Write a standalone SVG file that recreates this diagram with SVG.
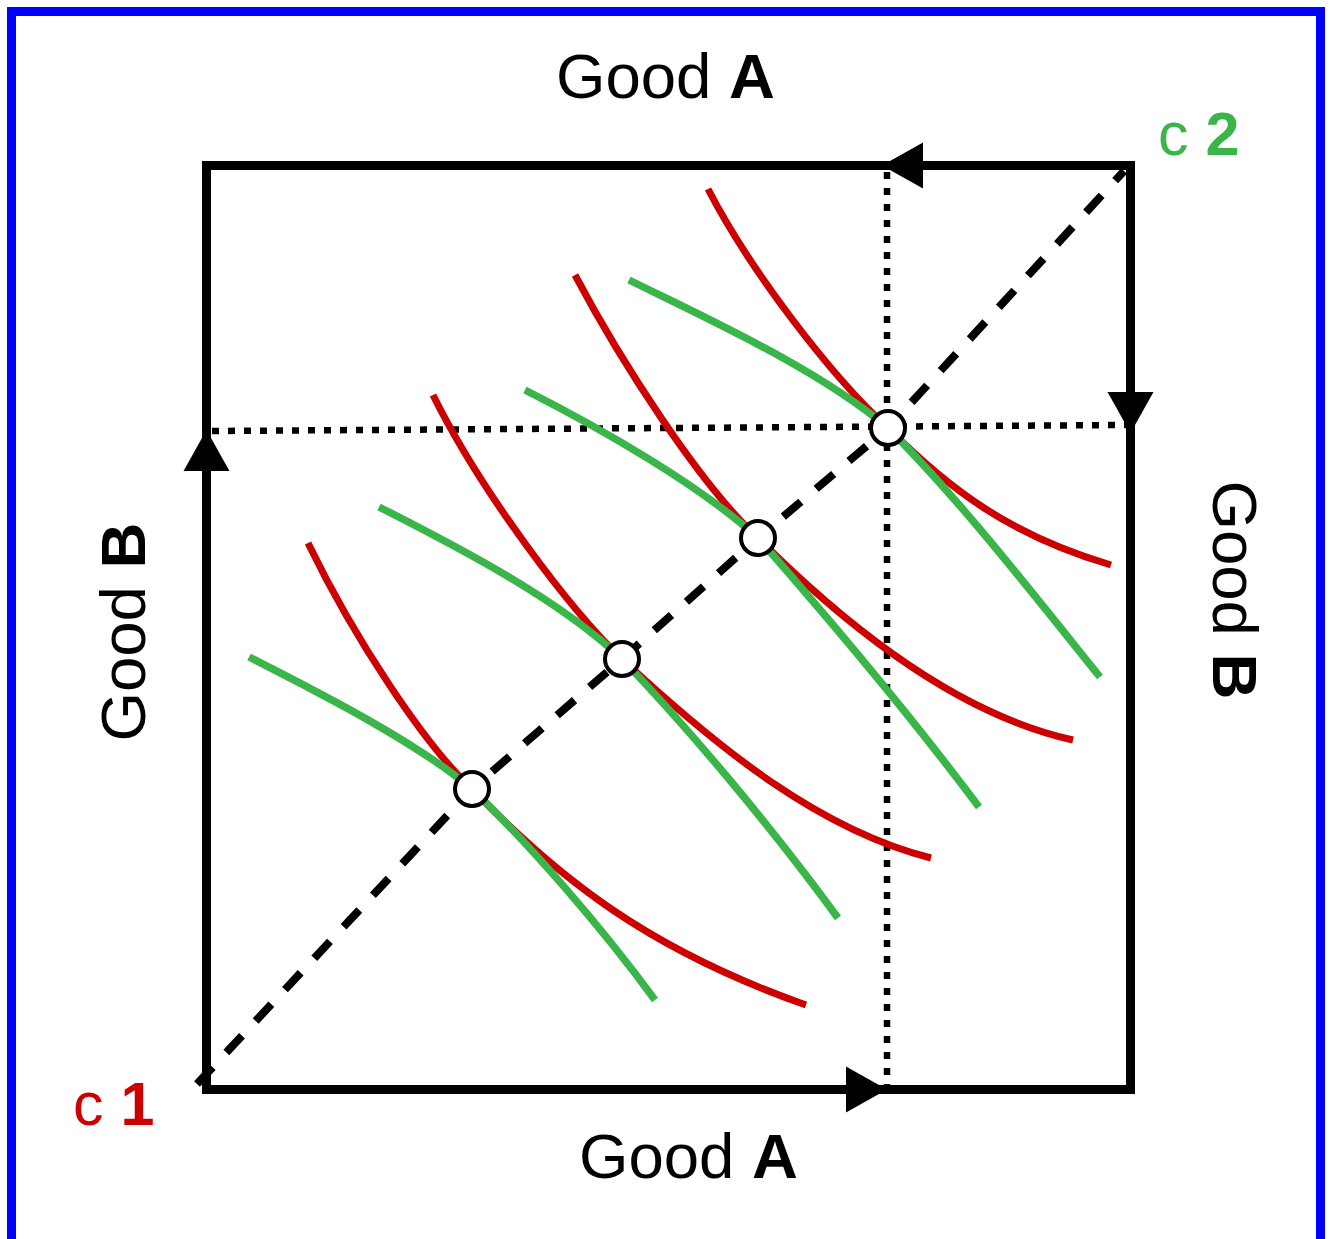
<svg xmlns="http://www.w3.org/2000/svg" width="1330" height="1239" viewBox="0 0 1330 1239">
<style>
.lbl{font-family:"Liberation Sans",Arial,sans-serif;font-size:63.5px;fill:#000}
.b{font-weight:bold}
.red{fill:none;stroke:#CC0000;stroke-width:7}
.grn{fill:none;stroke:#39B54A;stroke-width:7.5}
.dot{fill:none;stroke:#000;stroke-width:6.5;stroke-dasharray:7 9}
.dash{fill:none;stroke:#000;stroke-width:8;stroke-dasharray:23 20}
.pt{fill:#fff;stroke:#000;stroke-width:4}
</style>
<defs>
<path id="arr" d="M0,0 L-41,-23 L-41,23 Z" fill="#000"/>
</defs>
<rect x="0" y="0" width="1330" height="1239" fill="#fff"/>
<rect x="11.5" y="11.5" width="1309" height="1300" fill="none" stroke="#0000FF" stroke-width="9"/>
<g id="box">
<rect x="206.5" y="165.5" width="924" height="924" fill="none" stroke="#000" stroke-width="9"/>
<use href="#arr" transform="translate(887,1089.5)"/>
<use href="#arr" transform="translate(206.5,430) rotate(-90)"/>
<use href="#arr" transform="translate(882,165.5) rotate(180)"/>
<use href="#arr" transform="translate(1130.5,433) rotate(90)"/>
</g>
<g id="connectors">
<path class="dot" d="M212,431 L1126,425"/>
<path class="dot" d="M887,172 L887,1085"/>
<path class="dash" d="M197,1084 L472,789 L622,659 L758,538 L888,428 L1124,171"/>
</g>
<g id="curves-c1">
<path class="red" d="M308,543 C355,640 425,745 472,789 C560,880 650,950 806,1005"/>
<path class="red" d="M433,395 C480,490 570,610 622,659 C720,750 820,830 931,858"/>
<path class="red" d="M575,275 C620,360 700,485 758,538 C850,630 960,715 1073,740"/>
<path class="red" d="M708,189 C750,270 830,375 888,428 C950,490 1010,535 1111,565"/>
</g>
<g id="curves-c2">
<path class="grn" d="M249,657 C330,698 420,745 472,789 C530,845 600,925 655,1000"/>
<path class="grn" d="M379,507 C460,548 560,600 622,659 C690,730 770,825 838,918"/>
<path class="grn" d="M525,390 C600,428 700,485 758,538 C830,620 910,715 979,807"/>
<path class="grn" d="M629,280 C710,320 820,370 888,428 C960,500 1030,590 1100,677"/>
</g>
<g id="points">
<circle class="pt" cx="472" cy="789" r="17"/>
<circle class="pt" cx="622" cy="659" r="17"/>
<circle class="pt" cx="758" cy="538" r="17"/>
<circle class="pt" cx="888" cy="428" r="17"/>
</g>
<g id="labels">
<text class="lbl" x="556" y="98">Good <tspan class="b">A</tspan></text>
<text class="lbl" x="579" y="1178">Good <tspan class="b">A</tspan></text>
<text class="lbl" text-anchor="middle" transform="translate(145,632) rotate(-90)">Good <tspan class="b">B</tspan></text>
<text class="lbl" text-anchor="middle" transform="translate(1213,590) rotate(90)">Good <tspan class="b">B</tspan></text>
<text class="lbl" x="1158" y="155" style="fill:#39B54A;font-size:61px">c <tspan class="b">2</tspan></text>
<text class="lbl" x="73" y="1125" style="fill:#CC0000;font-size:61px">c <tspan class="b">1</tspan></text>
</g>
</svg>
